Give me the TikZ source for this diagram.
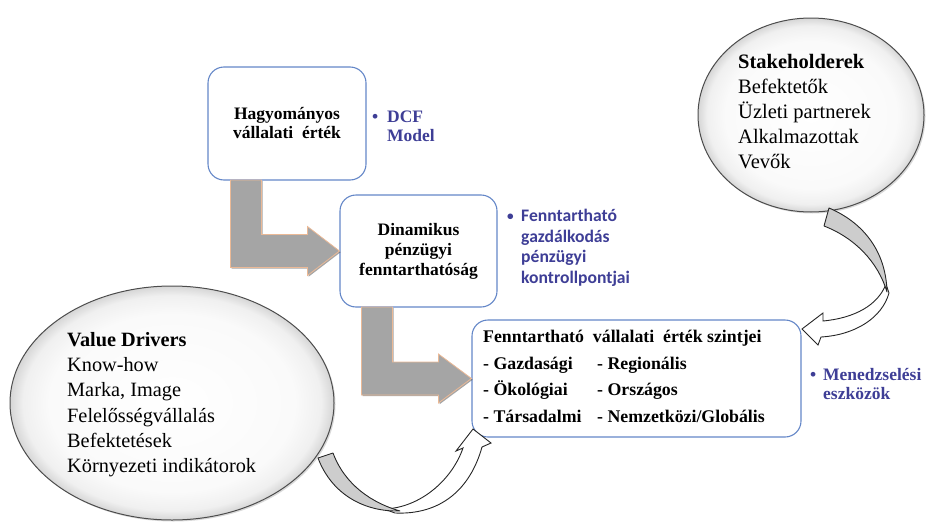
\documentclass[tikz,border=0pt]{standalone}
\usepackage{fontspec}
\setmainfont{Liberation Serif}
\newfontfamily\calib{Carlito}
\usetikzlibrary{shadows,shapes.geometric,calc}
\definecolor{boxblue}{RGB}{100,135,200}
\definecolor{bullblue}{RGB}{62,62,150}
\definecolor{arrgray}{RGB}{165,165,165}
\definecolor{arredge}{RGB}{235,185,150}
\definecolor{curvgray}{RGB}{205,205,205}
\pgfdeclareradialshading{bubbleshade}{\pgfpoint{0bp}{0bp}}{%
  color(0bp)=(white); color(19bp)=(white!98!black); color(23bp)=(white!94!black);
  color(25bp)=(white!84!black); color(50bp)=(white!80!black)}
\tikzset{
  valbox/.style={draw=boxblue, line width=1.1pt, rounded corners=16pt, fill=white, align=center, inner sep=0pt},
  bubble/.style={ellipse, draw=black!70, line width=1pt, shading=bubbleshade,
    drop shadow={opacity=0.3, shadow xshift=1.5pt, shadow yshift=-1.5pt}},
  larrow/.style={fill=arrgray, draw=arredge, line width=0.8pt, line join=miter,
    drop shadow={opacity=0.5, shadow xshift=1.2pt, shadow yshift=-1.2pt, fill=black!70}},
  cgray/.style={fill=curvgray, draw=black!85, line width=0.9pt, line join=round},
  cwhite/.style={fill=white, draw=black!85, line width=0.9pt, line join=miter},
  plaintext/.style={anchor=north west, align=left, inner sep=0pt},
  bullettext/.style={plaintext, text=bullblue},
}
\begin{document}
\begin{tikzpicture}[x=1pt,y=-1pt]
\useasboundingbox (0,0) rectangle (928,522);

% bubbles
\node[bubble, minimum width=226pt, minimum height=194pt] (stake) at (811,115) {};
\node[bubble, minimum width=324pt, minimum height=234pt] (vd) at (172,403) {};

\node[plaintext, font=\fontsize{20.5}{25}\selectfont] (staketext) at (738,54)
  {\textbf{Stakeholderek}\\Befektetők\\Üzleti partnerek\\Alkalmazottak\\Vevők};
\node[plaintext, font=\fontsize{20.3}{25.3}\selectfont] (vdtext) at (67,332)
  {\textbf{Value Drivers}\\Know-how\\Marka, Image\\Felelősségvállalás\\Befektetések\\Környezeti indikátorok};

% boxes
\node[valbox, minimum width=158pt, minimum height=113pt, font=\bfseries\fontsize{17.5}{19}\selectfont] (box1) at (287,123.5)
  {Hagyományos\\vállalati\ \ érték};
\node[valbox, minimum width=157pt, minimum height=112pt, font=\bfseries\fontsize{17.5}{20}\selectfont] (box2) at (418.5,251)
  {Dinamikus\\pénzügyi\\fenntarthatóság};
\node[valbox, minimum width=329pt, minimum height=117pt] (box3) at (636.5,378.5) {};
\node[plaintext, font=\bfseries\fontsize{17.8}{26.6}\selectfont] (box3text) at (483,330)
  {Fenntartható\ \ vállalati\ \ érték szintjei\\
   \makebox[114pt][l]{- Gazdasági}- Regionális\\
   \makebox[114pt][l]{- Ökológiai}- Országos\\
   \makebox[114pt][l]{- Társadalmi}- Nemzetközi/Globális};

% bullet notes
\node[bullettext, font=\bfseries\fontsize{17.5}{19}\selectfont] (dcf) at (372,111)
  {\makebox[15pt][l]{•}DCF\\\hspace*{15pt}Model};
\node[bullettext, font=\calib\bfseries\fontsize{17.6}{20.7}\selectfont] (ctrl) at (507,209)
  {\makebox[14pt][l]{\raisebox{1pt}{\scalebox{0.75}{•}}}Fenntartható\\\hspace*{14pt}gazdálkodás\\\hspace*{14pt}pénzügyi\\\hspace*{14pt}kontrollpontjai};
\node[bullettext, font=\bfseries\fontsize{17.5}{19.5}\selectfont] (menedz) at (810,368)
  {\makebox[13pt][l]{•}Menedzselési\\\hspace*{13pt}eszközök};

% L-shaped block arrows
\draw[larrow] (box2.west) -- ++(-32,-24.5) -- ++(0,8) -- ++(-46,0) -- ++(0,-54.5)
  -- ++(-31,0) -- ++(0,87.5) -- ++(77,0) -- ++(0,8) -- cycle;
\draw[larrow] (box3.west) -- ++(-33,-24.5) -- ++(0,8) -- ++(-46,0) -- ++(0,-55)
  -- ++(-31,0) -- ++(0,88) -- ++(77,0) -- ++(0,8) -- cycle;

% curved arrow: value drivers -> box3
\draw[cwhite] (384,509) .. controls (420,508) and (452,480) .. (463,448) -- (456,451) -- (473,429)
  -- (491,443) -- (482,447) .. controls (470,490) and (440,515) .. (395,513) -- cycle;
\draw[cgray] (318,458) .. controls (332,495) and (365,512) .. (400,511)
  .. controls (372,503) and (345,485) .. (333,453) -- cycle;

% curved arrow: stakeholders -> box3
\draw[cwhite] (886,284) .. controls (878,305) and (855,318) .. (823,321) -- (823,313) -- (802,329)
  -- (818,345) -- (821,337) .. controls (855,335) and (882,318) .. (889,293) -- cycle;
\draw[cgray] (829,208) .. controls (862,222) and (886,250) .. (887,292)
  .. controls (878,262) and (855,238) .. (824,226) -- cycle;
\end{tikzpicture}
\end{document}
